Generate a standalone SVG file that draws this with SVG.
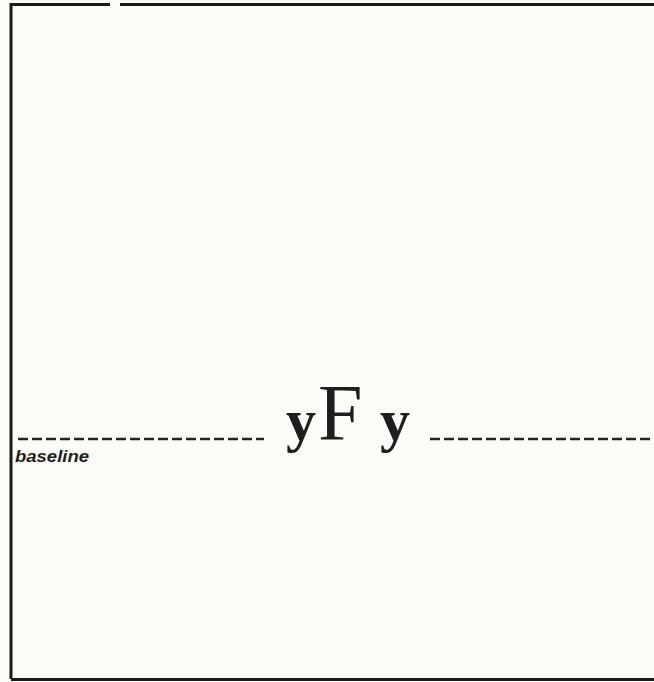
<svg xmlns="http://www.w3.org/2000/svg" width="654" height="682" viewBox="0 0 654 682">
  <style>
    .frame { fill: none; stroke: #1a1a1a; stroke-width: 3; }
    .base { stroke: #222; stroke-width: 2.5; stroke-dasharray: 10 4; fill: none; }
    .glyph { font-family: "Liberation Serif", "Times New Roman", serif; fill: #1e1e1e; }
    .y { font-weight: bold; font-size: 60px; }
    .f { font-size: 80px; }
    .label { font-family: "Liberation Sans", Arial, sans-serif; font-style: italic; font-weight: bold; font-size: 17px; fill: #1e1e1e; }
  </style>
  <rect x="0" y="0" width="654" height="682" fill="#fbfbf8"/>
  <g id="frame">
    <path class="frame" d="M11,679 L11,4.5 L110,4.5 M120,4.5 L654,4.5"/>
    <path class="frame" d="M11,679.5 L654,679.5"/>
  </g>
  <g id="connectors">
    <line class="base" x1="18" y1="439" x2="264" y2="439"/>
    <line class="base" x1="430" y1="439" x2="654" y2="439"/>
  </g>
  <g id="label-baseline">
    <text class="label" x="15" y="462" textLength="74" lengthAdjust="spacingAndGlyphs">baseline</text>
  </g>
  <g id="glyphs">
    <text class="glyph y" x="286" y="440">y</text>
    <text class="glyph f" x="318" y="440">F</text>
    <text class="glyph y" x="380" y="440">y</text>
  </g>
</svg>
